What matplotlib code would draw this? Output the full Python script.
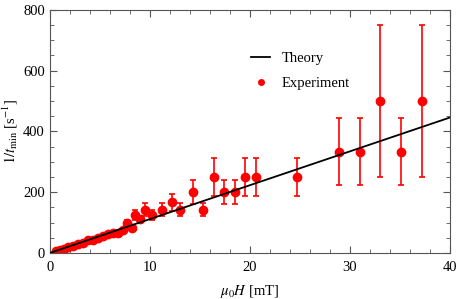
import matplotlib.pyplot as plt
import numpy as np
from matplotlib.lines import Line2D
from matplotlib.ticker import MultipleLocator

plt.rcParams['font.family'] = ['Liberation Serif', 'DejaVu Serif']
plt.rcParams['mathtext.fontset'] = 'stix'

# field [mT] and 1/t_min [1/s]
field = [0.6, 1.0, 1.4, 1.8, 2.3, 2.8, 3.3, 3.8, 4.3, 4.8, 5.3, 5.8, 6.3, 6.8,
         7.3, 7.7, 8.2, 8.5, 9.0, 9.5, 10.2, 11.2, 12.2, 13.0, 14.3, 15.3,
         16.4, 17.4, 18.5, 19.5, 20.6, 24.7, 28.9, 31.0, 33.0, 35.1, 37.2]
rate = [7.7, 10, 14, 20, 23, 29, 33, 42, 42, 50, 56, 63, 67, 67,
        77, 100, 83, 125, 111, 143, 125, 143, 167, 143, 200, 143,
        250, 200, 200, 250, 250, 250, 333, 333, 500, 333, 500]
rate_err = [4, 4, 4, 4, 4, 4, 4, 4, 4, 4, 4, 4, 5, 5,
            6, 10, 7, 16, 12, 20, 16, 20, 28, 20, 40, 20,
            63, 40, 40, 63, 63, 63, 111, 111, 250, 111, 250]
theory_x = [0, 40]
theory_y = [0, 446]

fig = plt.figure(figsize=(4.57, 2.99), dpi=100)
ax = fig.add_axes([0.109, 0.154, 0.876, 0.813])

ax.plot(theory_x, theory_y, color='black', lw=1.3, zorder=3)
ax.errorbar(field, rate, yerr=rate_err, fmt='o', color='red', ms=6,
            elinewidth=1.2, capsize=2, capthick=1.2, zorder=2)

ax.set_xlim(0, 40)
ax.set_ylim(0, 800)
ax.xaxis.set_major_locator(MultipleLocator(10))
ax.xaxis.set_minor_locator(MultipleLocator(2))
ax.yaxis.set_major_locator(MultipleLocator(200))
ax.yaxis.set_minor_locator(MultipleLocator(50))
ax.tick_params(which='both', direction='in', top=True, right=True,
               color='#555555', labelsize=10.5)
ax.tick_params(which='major', length=5)
ax.tick_params(which='minor', length=3)
ax.tick_params(axis='x', pad=6)
for s in ax.spines.values():
    s.set_color('#555555')
    s.set_linewidth(0.8)

ax.set_xlabel(r'$\mu_0 H$ [mT]', fontsize=10.5, labelpad=6)
ax.set_ylabel(r'$1/t_\mathrm{min}$ [s$^{-1}$]', fontsize=10.5, labelpad=2)

handles = [Line2D([], [], color='black', lw=1.3),
           Line2D([], [], color='red', marker='o', ms=4, ls='none')]
ax.legend(handles, ['Theory', 'Experiment'], frameon=False, fontsize=10.5,
          loc='upper left', bbox_to_anchor=(0.47, 0.88), handlelength=1.3,
          labelspacing=0.8)

fig.savefig('out.png', dpi=100)
